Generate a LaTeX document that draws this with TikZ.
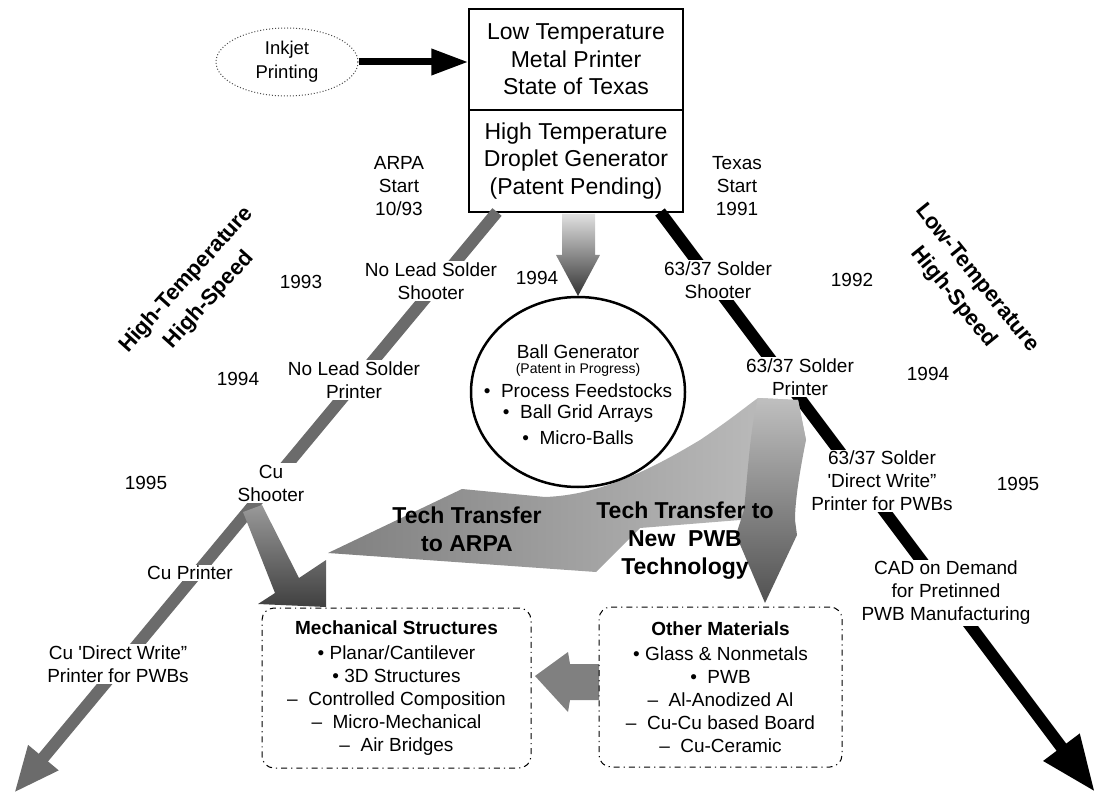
\documentclass[tikz,border=0pt]{standalone}
\usepackage{fontspec}
\setmainfont{Liberation Sans}
\usetikzlibrary{arrows.meta,shapes.geometric}
\begin{document}
\begin{tikzpicture}[x=1pt,y=-1pt,
  lbl/.style={font=\fontsize{19}{23}\selectfont, align=center, inner sep=1.5pt},
  cut/.style={lbl, fill=white},
  boxtxt/.style={draw, line width=1.5pt, minimum width=214pt, minimum height=101pt, inner sep=0pt, align=center, font=\fontsize{23}{27.5}\selectfont},
  bigbold/.style={font=\bfseries\fontsize{23}{28}\selectfont, align=center, inner sep=0pt},
  diag/.style={font=\bfseries\fontsize{22}{30}\selectfont, align=center, inner sep=0pt},
  rbox/.style={draw, dash pattern=on 6pt off 4pt on 1.2pt off 4pt, rounded corners=12pt, line width=1pt, align=center, inner sep=0pt, font=\fontsize{19}{23}\selectfont},
  hatch/.style={line width=12pt, draw=black!58},
  solid/.style={line width=12pt, draw=black}
]
\useasboundingbox (0,0) rectangle (1097,794);

% top box
\node[boxtxt] (lowT) at (576,59.5) {Low Temperature\\Metal Printer\\State of Texas};
\node[boxtxt, minimum height=102pt] (highT) at (576,161) {High Temperature\\Droplet Generator\\(Patent Pending)};

% inkjet
\node[ellipse, draw=black!70, dotted, line width=1pt, minimum width=142pt, minimum height=68pt, inner sep=0pt, align=center, font=\fontsize{18.5}{24}\selectfont] (inkjet) at (287,62) {Inkjet\\Printing};
\draw[line width=7pt, -{Triangle[length=37pt,width=25pt]}] (inkjet.east) -- (inkjet.east -| lowT.west);

% main diagonal lines
\coordinate (gtop) at (497,212);
\coordinate (gtip) at (14,793);
\coordinate (btop) at (660,212);
\coordinate (btip) at (1095,792);
\draw[hatch, -{Triangle[length=46pt,width=36pt]}, black!58] (gtop) -- (gtip);
\draw[solid, -{Triangle[length=56pt,width=42pt]}] (btop) -- (btip);

% down arrow box -> ball
\shade[top color=black!12, bottom color=black!80]
  (562,214) -- (595,214) -- (595,255) -- (600,255) -- (578,296) -- (556,255) -- (562,255) -- cycle;

% Cu shooter arrow -> mechanical
\shade[top color=black!40, bottom color=black!75]
  (243,512) -- (275,593) -- (258,604) -- (326,607) -- (326,560) -- (299,578) -- (262,505) -- cycle;

% arrow between boxes
\fill[black!50] (535,676) -- (568,652) -- (570,664) -- (599,664) -- (599,700) -- (570,700) -- (568,712) -- cycle;

% tech transfer to ARPA
\shade[left color=black!50, right color=black!25]
  (328,553) -- (462,489) -- (545,497) .. controls (600,495) and (650,470) .. (700,440)
  .. controls (730,420) and (748,405) .. (758,398) -- (798,400) -- (806,440)
  .. controls (780,480) and (760,510) .. (740,520) -- (640,528) -- (596,572) -- cycle;
% tech transfer to new PWB
\shade[top color=black!25, bottom color=black!68]
  (758,398) -- (798,400) -- (806,440) .. controls (800,470) and (795,500) .. (795,520)
  -- (797,535) -- (765,603) -- (736,535) -- (744,510) .. controls (748,470) and (750,430) .. (758,398) -- cycle;

% ball generator
\node[ellipse, draw, fill=white, line width=2.5pt, minimum width=214pt, minimum height=190pt, inner sep=0pt] (ball) at (578,392) {};
\node[lbl] (bg1) at (578,352) {Ball Generator};
\node[lbl, font=\fontsize{14}{16}\selectfont] (bg2) at (578,370) {(Patent in Progress)};
\node[lbl] (bg3) at (578,391) {•\ \ Process Feedstocks};
\node[lbl] (bg4) at (578,414) {•\ \ Ball Grid Arrays};
\node[lbl] (bg5) at (578,438) {•\ \ Micro-Balls};

\node[bigbold] (tta) at (467,529) {Tech Transfer\\to ARPA};
\node[bigbold] (ttp) at (685,541) {Tech Transfer to\\New\ \ PWB\\Technology};

% labels on the lines
\node[cut] (nlss) at (431,281) {No Lead Solder\\Shooter};
\node[cut] (nlsp) at (354,380) {No Lead Solder\\Printer};
\node[cut] (cush) at (271,483) {Cu\\Shooter};
\node[cut] (cupr) at (190,573) {Cu Printer};
\node[cut] (cudw) at (118,664) {Cu \textquotesingle Direct Write''\\Printer for PWBs};
\node[cut] (ssh) at (718,280) {63/37 Solder\\Shooter};
\node[cut] (spr) at (800,377) {63/37 Solder\\Printer};
\node[cut] (sdw) at (882,481) {63/37 Solder\\\textquotesingle Direct Write''\\Printer for PWBs};
\node[cut] (cad) at (946,593) {CAD on Demand\\for Pretinned\\PWB Manufacturing};

% years and starts
\node[lbl] (y93) at (301,282) {1993};
\node[lbl] (y94l) at (238,379) {1994};
\node[lbl] (y95l) at (146,483) {1995};
\node[lbl] (y94c) at (537,278) {1994};
\node[lbl] (y92) at (852,280) {1992};
\node[lbl] (y94r) at (928,374) {1994};
\node[lbl] (y95r) at (1018,484) {1995};
\node[lbl] (arpa) at (399,186) {ARPA\\Start\\10/93};
\node[lbl] (texas) at (737,186) {Texas\\Start\\1991};

% rotated titles
\node[diag, rotate=48] (htl) at (198,290) {High-Temperature\\High-Speed};
\node[diag, rotate=-51] (ltl) at (965,288) {Low-Temperature\\High-Speed};

% bottom boxes
\node[rbox, minimum width=269pt, minimum height=160pt] (mech) at (396.5,688)
  {\textbf{Mechanical Structures}\\[2pt]• Planar/Cantilever\\• 3D Structures\\–\ \ Controlled Composition\\–\ \ Micro-Mechanical\\–\ \ Air Bridges};
\node[rbox, minimum width=243pt, minimum height=160pt] (other) at (720.5,687)
  {\textbf{Other Materials}\\[2pt]• Glass \& Nonmetals\\•\ \ PWB\\–\ \ Al-Anodized Al\\–\ \ Cu-Cu based Board\\–\ \ Cu-Ceramic};
\end{tikzpicture}
\end{document}
